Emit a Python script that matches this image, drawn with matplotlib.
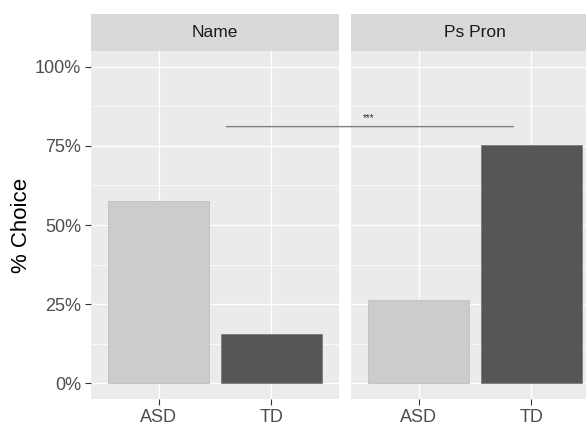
import numpy as np
import matplotlib
matplotlib.use("Agg")
import matplotlib.pyplot as plt
from matplotlib.patches import ConnectionPatch
from matplotlib.ticker import FuncFormatter

plt.rcParams['font.family'] = ['Liberation Sans', 'DejaVu Sans']

# data
facets = ['Name', 'Ps Pron']
groups = ['ASD', 'TD']
values = {
    'Name': [0.577, 0.157],
    'Ps Pron': [0.264, 0.754],
}
sig_y = 0.811
sig_label = '***'

bar_colors = ['#CCCCCC', '#575555']
edge_colors = ['#C4C4C4', '#808080']

fig = plt.figure(figsize=(5.86, 4.30), dpi=100)

W, H = 586, 430
panel_w = 248 / W
panel_b = 1 - 399 / H
panel_h = (399 - 51) / H
strip_h = (51 - 14) / H
lefts = [91 / W, 351 / W]

axes = []
for i, facet in enumerate(facets):
    ax = fig.add_axes([lefts[i], panel_b, panel_w, panel_h])
    ax.set_facecolor('#EBEBEB')
    x = np.arange(1, len(groups) + 1)
    ax.bar(x, values[facet], width=0.9, color=bar_colors,
           edgecolor=edge_colors, linewidth=0.7, zorder=3)
    ax.set_xlim(0.4, 2.6)
    ax.set_ylim(-0.05, 1.05)
    ax.set_xticks(x)
    ax.set_xticklabels(groups)
    ax.set_yticks([0, 0.25, 0.5, 0.75, 1.0])
    ax.set_yticks([0.125, 0.375, 0.625, 0.875], minor=True)
    ax.yaxis.set_major_formatter(FuncFormatter(lambda v, p: f'{v*100:.0f}%'))
    ax.grid(which='major', color='white', linewidth=1.0, zorder=0)
    ax.grid(which='minor', axis='y', color='white', linewidth=0.5, zorder=0)
    ax.set_axisbelow(True)
    for s in ax.spines.values():
        s.set_visible(False)
    ax.tick_params(axis='both', which='major', length=4, width=0.8,
                   color='#333333', labelcolor='#4D4D4D', labelsize=13, pad=3)
    ax.tick_params(axis='both', which='minor', length=0)
    if i > 0:
        ax.tick_params(axis='y', which='both', left=False, labelleft=False)
    else:
        ax.set_ylabel('% Choice', fontsize=16, color='black', labelpad=2)

    # facet strip
    sax = fig.add_axes([lefts[i], panel_b + panel_h, panel_w, strip_h])
    sax.set_facecolor('#D9D9D9')
    sax.set_xticks([])
    sax.set_yticks([])
    for s in sax.spines.values():
        s.set_visible(False)
    sax.text(0.5, 0.5, facet, ha='center', va='center', fontsize=12.5,
             color='#1A1A1A', transform=sax.transAxes)
    axes.append(ax)

# significance bracket across panels
con = ConnectionPatch(xyA=(1.6, sig_y), coordsA=axes[0].transData,
                      xyB=(1.84, sig_y), coordsB=axes[1].transData,
                      color='#808080', linewidth=1.0, zorder=5)
fig.add_artist(con)
axes[1].text(0.56, sig_y + 0.026, sig_label, ha='center', va='center',
             fontsize=7, color='#333333', zorder=6)

fig.savefig('out.png', dpi=100)
